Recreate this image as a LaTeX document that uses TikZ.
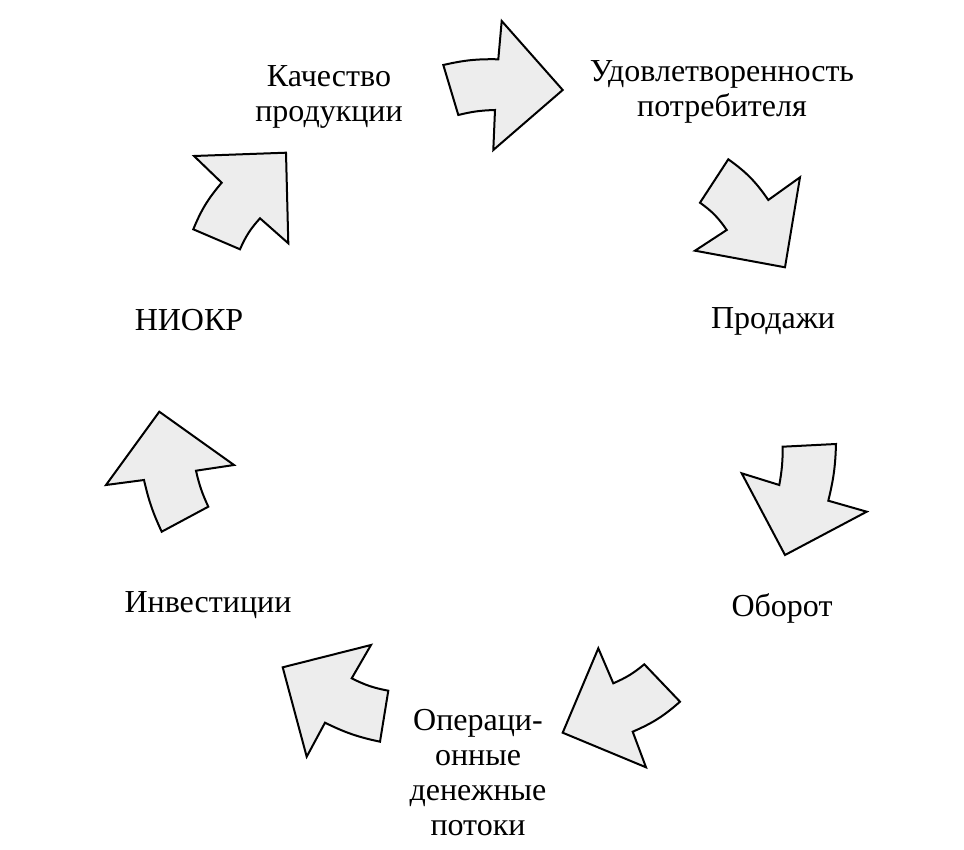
\documentclass[tikz,border=0pt]{standalone}
\usepackage{fontspec}
\setmainfont{Liberation Serif}

\begin{document}
\begin{tikzpicture}[x = 0.5pt, y = -0.5pt,
  cyclearrow/.style = {draw, line width = 1pt, line join = miter, fill = black!7},
  stage/.style = {align = center, inner sep = 0pt, font = \fontsize{16}{17.5}\selectfont}]
\useasboundingbox (0,0) rectangle (964,850);

% arrows, clockwise from the top
\draw [cyclearrow] (562.7,90) -- (501.7,21) -- (498.3,59.3) to [bend right=7] (443.3,65)
  -- (458.3,115) to [bend left=6] (495,110) -- (493.3,150) -- cycle;
\draw [cyclearrow] (785,267.3) -- (800,177.3) -- (768.3,200) to [bend right=10] (728.3,159.3)
  -- (700,202.7) to [bend left=10] (726.7,230) -- (695,250.7) -- cycle;
\draw [cyclearrow] (785,555) -- (866.7,511.7) -- (828.3,500.7) to [bend right=6] (836,444)
  -- (782.7,446.7) to [bend left=5] (779.3,485) -- (741.7,473.3) -- cycle;
\draw [cyclearrow] (562.7,732.7) -- (646,767.3) -- (632.7,731.7) to [bend right=9] (680,701.7)
  -- (644.3,664.3) to [bend left=8] (613.3,683.3) -- (598.3,648.3) -- cycle;
\draw [cyclearrow] (282.7,667.3) -- (306.7,756.7) -- (325,722.7) to [bend right=7] (380,741.7)
  -- (388.3,690.7) to [bend left=8] (351.7,678.3) -- (371,645) -- cycle;
\draw [cyclearrow] (159.3,411.7) -- (106,485) -- (144,480) to [bend right=6] (161.7,531.7)
  -- (208.3,506.7) to [bend left=6] (196,470.7) -- (234,465) -- cycle;
\draw [cyclearrow] (286,152.7) -- (194,156) -- (221.7,182.7) to [bend right=9] (193.3,229.3)
  -- (240,249.3) to [bend left=9] (260,218.3) -- (288.3,243.3) -- cycle;

% stages
\node [stage] (quality) at (329,97) {Качество\\продукции};
\node [stage] (satisfaction) at (722,92) {Удовлетворенность\\потребителя};
\node [stage] (sales) at (773,321) {Продажи};
\node [stage] (turnover) at (782,608) {Оборот};
\node [stage] (cashflow) at (478,773) {Операци-\\онные\\денежные\\потоки};
\node [stage] (investment) at (208,605) {Инвестиции};
\node [stage] (rnd) at (189,320) {НИОКР};
\end{tikzpicture}
\end{document}
